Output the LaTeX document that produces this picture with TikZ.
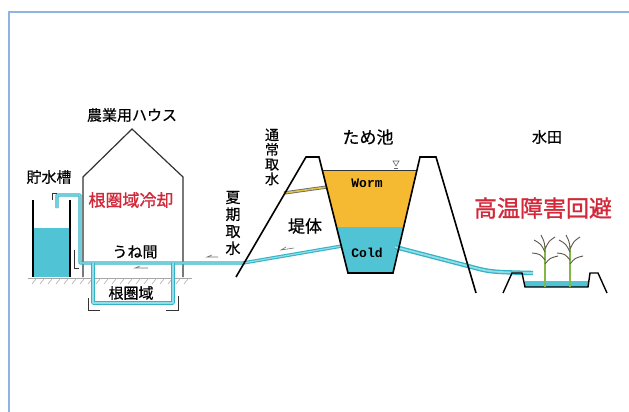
\documentclass[tikz,border=0pt]{standalone}
\usepackage{fontspec}
\setmainfont{Noto Sans CJK JP}[FakeBold=0.4]
\newfontfamily\heavyfont{Noto Sans CJK JP}[FakeBold=1.2]
\newfontfamily\monob{Liberation Mono}
\definecolor{framecol}{RGB}{141,180,226}
\definecolor{pipecol}{RGB}{50,180,198}
\definecolor{pipelight}{RGB}{150,220,230}
\definecolor{watercol}{RGB}{80,196,212}
\definecolor{warmcol}{RGB}{245,185,50}
\definecolor{redtxt}{RGB}{210,40,58}
\definecolor{intakecol}{RGB}{220,195,70}
\definecolor{stemcol}{RGB}{130,185,70}
\definecolor{leafcol}{RGB}{95,85,75}
\tikzset{
  lbl/.style={inner sep=0pt, font=\fontsize{15}{15}\selectfont},
  biglbl/.style={inner sep=0pt, font=\fontsize{17}{17}\selectfont},
  redlbl/.style={inner sep=0pt, text=redtxt},
  vlbl/.style={inner sep=0pt, align=center},
  monolbl/.style={inner sep=0pt, font=\monob\bfseries\fontsize{13}{13}\selectfont},
  pipe/.style={draw=pipecol, line width=1.1pt, double=pipelight, double distance=1.2pt, line join=round},
  widepipe/.style={draw=pipecol, line width=1.3pt, double=pipelight, double distance=1.8pt, line join=round},
  outline/.style={draw=black, line width=1.6pt, line join=miter},
  thin/.style={draw=black!80, line width=0.6pt},
  flow/.style={draw=black!55, line width=0.6pt},
  hatch/.style={draw=black!35, line width=0.5pt}
}
\begin{document}
\begin{tikzpicture}[x=1pt,y=-1pt]
\useasboundingbox (0,0) rectangle (629,412);
\fill[white] (0,0) rectangle (629,412);

% frame
\draw[framecol, line width=2pt] (9,414) -- (9,12) -- (631,12);

% ground under the house
\draw[hatch] (28,278) -- (192,278);
\foreach \x in {32,40,...,188} \draw[hatch] (\x,284) -- (\x+4,279);

% storage tank
\fill[watercol] (33,228) rectangle (70,277);
\draw[black, line width=1.2pt] (33,200) -- (33,277);
\draw[black, line width=1.2pt] (70,200) -- (70,277);

% greenhouse
\draw[black!80, line width=1.2pt, line join=miter] (83,277) -- (83,177) -- (132,129) -- (183,177) -- (183,277);

% pond water
\fill[warmcol] (322.2,170) -- (417,170) -- (403.7,227) -- (336.5,227) -- cycle;
\fill[watercol] (336.5,227) -- (403.7,227) -- (393,273) -- (348,273) -- cycle;
\draw[black!80, line width=0.8pt] (322.2,170) -- (417,170);

% paddy water
\fill[watercol] (525,281) -- (588,281) -- (588,287) -- (525,287) -- cycle;

% pipe coordinates
\coordinate (tkA) at (57,208);
\coordinate (tkB) at (57,195);
\coordinate (tkC) at (80,195);
\coordinate (tkD) at (80,263);
\coordinate (lpA) at (93,263);
\coordinate (lpB) at (93,303);
\coordinate (lpC) at (173,303);
\coordinate (lpD) at (173,263);
\coordinate (bend) at (243,263);
\coordinate (pondL) at (342,246);
\coordinate (pondR) at (395,247);
\coordinate (fieldA) at (468,266);
\coordinate (fieldB) at (533,273);
\coordinate (intA) at (284,193);
\coordinate (intB) at (327,187);

% pipes
\draw[pipe] (tkA) -- (tkB) -- (tkC) -- (tkD) -- (bend) -- (pondL);
\draw[pipe] (lpA) -- (lpB) -- (lpC) -- (lpD);
\draw[widepipe] (pondR) -- (fieldA) .. controls (490,272) .. (fieldB);
\draw[draw=black!60, line width=0.8pt, double=intakecol, double distance=1.6pt] (intA) -- (intB);

% embankments and pond
\draw[outline] (236,277) -- (306,157) -- (319,157) -- (348,273) -- (393,273) -- (420,157) -- (436,157) -- (476,293);

% paddy levees
\draw[outline, line width=1.4pt] (503,293) -- (512,273) -- (522,273) -- (525,287) -- (588,287) -- (590,273) -- (598,273) -- (607,293);

% water surface mark
\draw[black!60, line width=0.6pt] (393,161) -- (399,161) -- (396,166) -- cycle;
\draw[black!60, line width=0.5pt] (394,168) -- (398,168);

% rice plants
\foreach \px in {545,570} {
  \draw[stemcol, line width=1.6pt] (\px,287) -- (\px,246);
  \draw[leafcol, line width=0.9pt] (\px,252) .. controls (\px-4,244) .. (\px-11,240);
  \draw[leafcol, line width=0.9pt] (\px,249) .. controls (\px+4,241) .. (\px+10,237);
  \draw[leafcol, line width=0.9pt] (\px,260) .. controls (\px-5,254) .. (\px-13,253);
  \draw[leafcol, line width=0.9pt] (\px,264) .. controls (\px+5,258) .. (\px+13,256);
  \draw[leafcol, line width=0.9pt] (\px,247) .. controls (\px-1,241) .. (\px-4,235);
}

% small flow arrows
\draw[flow] (148,268) -- (135,268) -- (140,266);
\draw[flow] (218,257) -- (207,257) -- (212,255);
\draw[flow] (294,248) -- (281,250) -- (286,247);

% small brackets
\draw[thin] (52,200) -- (52,193) -- (57,193);
\draw[thin] (74,250) -- (74,268) -- (79,268);
\draw[thin] (88,298) -- (88,310) -- (100,310);
\draw[thin] (166,310) -- (178,310) -- (178,296);

% labels
\node[lbl] (houselbl) at (132,115) {農業用ハウス};
\node[lbl] (tanklbl) at (49,177) {貯水槽};
\node[redlbl, font=\heavyfont\fontsize{17}{17}\selectfont] (coollbl) at (131,200) {根圏域冷却};
\node[lbl] (unelbl) at (135,252) {うね間};
\node[lbl] (rootlbl) at (131,293) {根圏域};
\node[biglbl] (pondlbl) at (368,137) {ため池};
\node[vlbl, font=\fontsize{14}{14.7}\selectfont] (normlbl) at (272,157) {通\\常\\取\\水};
\node[vlbl, font=\fontsize{15}{17}\selectfont] (sumlbl) at (233,223) {夏\\期\\取\\水};
\node[biglbl] (damlbl) at (305,226) {堤体};
\node[monolbl] (warmlbl) at (367,183) {Worm};
\node[monolbl] (coldlbl) at (367,253) {Cold};
\node[lbl] (paddylbl) at (547,137) {水田};
\node[redlbl, font=\heavyfont\fontsize{23}{23}\selectfont] (avoidlbl) at (543,208) {高温障害回避};
\end{tikzpicture}
\end{document}
